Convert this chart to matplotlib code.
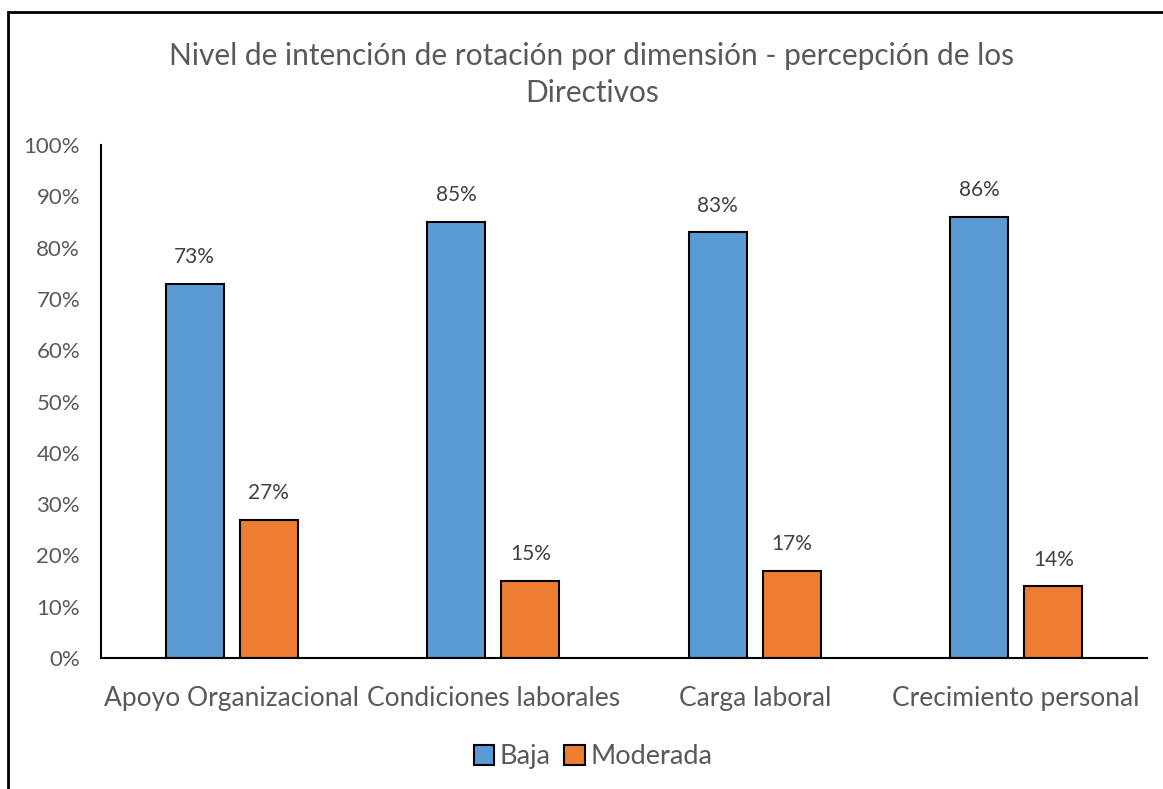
import matplotlib.pyplot as plt
import numpy as np
from matplotlib.patches import Rectangle

plt.rcParams['font.family'] = ['Lato', 'DejaVu Sans']

# Datos
categorias = ['Apoyo Organizacional', 'Condiciones laborales', 'Carga laboral', 'Crecimiento personal']
baja = [73, 85, 83, 86]
moderada = [27, 15, 17, 14]
series = ['Baja', 'Moderada']

gris = '#595959'
fig = plt.figure(figsize=(11.63, 7.89), dpi=100)
ax = fig.add_axes([0.0868, 0.166, 0.8994, 0.650])

x = np.arange(len(categorias))
w = 0.222
off = 0.142
b1 = ax.bar(x - off, baja, w, color='#5B9BD5', edgecolor='black', linewidth=1.5, label=series[0])
b2 = ax.bar(x + off, moderada, w, color='#ED7D31', edgecolor='black', linewidth=1.5, label=series[1])

for bars in (b1, b2):
    ax.bar_label(bars, labels=[f'{int(v)}%' for v in bars.datavalues], padding=12,
                 fontsize=15, color='#404040')

ax.set_xlim(-0.5, len(categorias) - 0.5)
ax.set_ylim(0, 100)
ax.set_yticks(range(0, 101, 10))
ax.set_yticklabels([f'{v}%' for v in range(0, 101, 10)])
ax.set_xticks(x)
ax.set_xticklabels(categorias)
ax.tick_params(axis='y', length=0, pad=15, labelsize=16, labelcolor=gris)
ax.tick_params(axis='x', length=0, pad=20, labelsize=19, labelcolor=gris)
for s in ['top', 'right']:
    ax.spines[s].set_visible(False)
ax.spines['left'].set_linewidth(1.5)
ax.spines['bottom'].set_linewidth(1.5)

fig.text(0.509, 0.906, 'Nivel de intención de rotación por dimensión - percepción de los\nDirectivos',
         ha='center', va='center', fontsize=21.5, color=gris, linespacing=1.4)

fig.legend(loc='center', bbox_to_anchor=(0.51, 0.041), ncol=2, frameon=False,
           fontsize=19.5, labelcolor=gris, handlelength=0.75, handleheight=0.75,
           handletextpad=0.2, columnspacing=0.5)

fig.patches.append(Rectangle((8 / 1163, -0.05), 1.0, 1 - 12 / 789 + 0.05,
                             transform=fig.transFigure, fill=False,
                             edgecolor='black', linewidth=2))

plt.savefig('out.png')
